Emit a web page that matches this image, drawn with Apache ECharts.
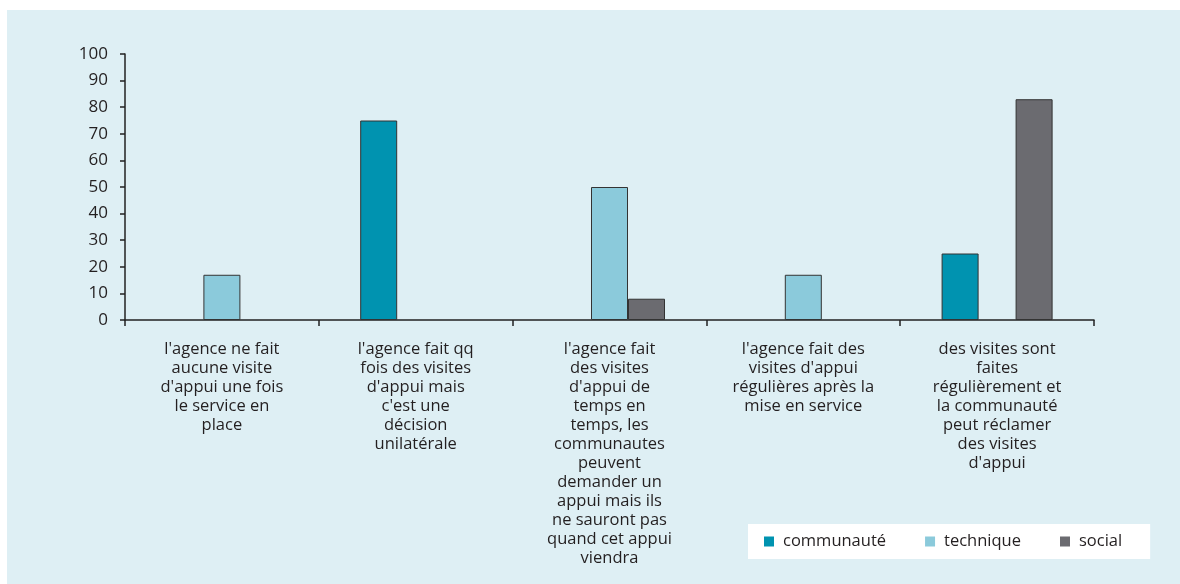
<!DOCTYPE html>
<html>
<head>
<meta charset="utf-8">
<script src="https://cdn.jsdelivr.net/npm/echarts@6/dist/echarts.min.js"></script>
<style>
  html, body { margin: 0; padding: 0; background: #ffffff; }
  #chart { position: absolute; left: 7px; top: 10px; width: 1173px; height: 574px; }
</style>
</head>
<body>
<div id="chart"></div>
<script>
// Category labels (line breaks as laid out under each group)
const categories = [
  "l'agence ne fait\naucune visite\nd'appui une fois\nle service en\nplace",
  "l'agence fait qq\nfois des visites\nd'appui mais\nc'est une\ndécision\nunilatérale",
  "l'agence fait\ndes visites\nd'appui de\ntemps en\ntemps, les\ncommunautes\npeuvent\ndemander un\nappui mais ils\nne sauront pas\nquand cet appui\nviendra",
  "l'agence fait des\nvisites d'appui\nrégulières après la\nmise en service",
  "des visites sont\nfaites\nrégulièrement et\nla communauté\npeut réclamer\ndes visites\nd'appui"
];

// Series values (%)
const communaute = [0, 75, 0, 0, 25];
const technique  = [17, 0, 50, 17, 0];
const social     = [0, 0, 8, 0, 83];

const seriesNames = ['communauté', 'technique', 'social'];
const yTicks = { min: 0, max: 100, step: 10 };

const FONT = '"Open Sans", Lato, sans-serif';
const TEXT = '#231f20';
const colors = ['#0093b0', '#8bcadb', '#6b6b70'];

const chart = echarts.init(document.getElementById('chart'));

function barSeries(name, data, color) {
  return {
    name: name,
    type: 'bar',
    data: data.map(v => (v === 0 ? null : v)),
    barWidth: 37,
    barGap: '0%',
    itemStyle: { color: color, borderColor: '#333333', borderWidth: 1 }
  };
}

chart.setOption({
  backgroundColor: '#deeff4',
  animation: false,
  textStyle: { fontFamily: FONT, color: TEXT },
  grid: { left: 118, right: 86, top: 44, bottom: 264, containLabel: false },
  legend: {
    left: 741,
    top: 514,
    backgroundColor: '#ffffff',
    padding: [9, 28, 9, 16],
    itemWidth: 10,
    itemHeight: 10,
    itemGap: 39,
    icon: 'rect',
    itemStyle: { borderWidth: 0 },
    textStyle: { fontFamily: FONT, fontSize: 16.5, color: TEXT, padding: [0, 0, 0, 4] },
    data: seriesNames
  },
  xAxis: {
    type: 'category',
    data: categories,
    axisLine: { lineStyle: { color: '#222222', width: 1.5 } },
    axisTick: { show: true, length: 6, interval: 0, lineStyle: { color: '#222222', width: 1.5 } },
    axisLabel: {
      interval: 0,
      margin: 20,
      fontFamily: FONT,
      fontSize: 16.5,
      lineHeight: 19,
      color: TEXT,
      align: 'center'
    }
  },
  yAxis: {
    type: 'value',
    min: yTicks.min,
    max: yTicks.max,
    interval: yTicks.step,
    splitLine: { show: false },
    axisLine: { show: true, lineStyle: { color: '#222222', width: 1.5 } },
    axisTick: { show: true, length: 5, lineStyle: { color: '#222222', width: 1.5 } },
    axisLabel: { margin: 17, fontFamily: FONT, fontSize: 17, color: TEXT }
  },
  series: [
    barSeries(seriesNames[0], communaute, colors[0]),
    barSeries(seriesNames[1], technique, colors[1]),
    barSeries(seriesNames[2], social, colors[2])
  ]
});
</script>
</body>
</html>
